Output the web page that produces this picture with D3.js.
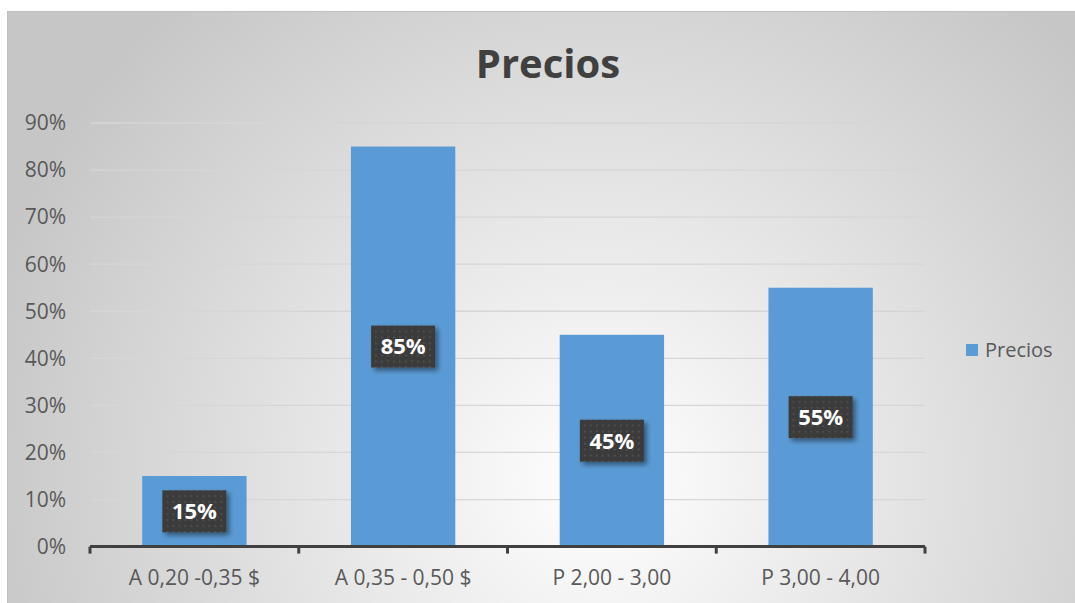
<!DOCTYPE html>
<html>
  <head>
    <meta charset="UTF-8">
    <title>Precios</title>
    <script src="https://cdnjs.cloudflare.com/ajax/libs/d3/7.8.5/d3.min.js"></script>
  </head>
  <style type="text/css">
    body { margin: 0px; background: #fff; overflow: hidden; }
    svg { display: block; }
    text { font-family: "Open Sans", "Noto Sans", sans-serif; }
    .tick-label { fill: #595959; font-size: 21px; }
    .grid line { stroke: #d6d6d6; stroke-width: 1.3px; }
  </style>
  <body>
    <div id="chart"></div>
    <script>
      const categories = ["A 0,20 -0,35 $", "A 0,35 - 0,50 $", "P 2,00 - 3,00", "P 3,00 - 4,00"];
      const values = [0.15, 0.85, 0.45, 0.55];
      const yTicks = [0, 0.1, 0.2, 0.3, 0.4, 0.5, 0.6, 0.7, 0.8, 0.9];
      const seriesName = "Precios";

      const width = 1075, height = 603;
      const margin = {top: 123, right: 150, bottom: 56, left: 90};

      const svg = d3.select("#chart").append("svg")
        .attr("width", width)
        .attr("height", height);

      const defs = svg.append("defs");
      const bg = defs.append("radialGradient")
        .attr("id", "bg")
        .attr("gradientUnits", "userSpaceOnUse")
        .attr("cx", 600).attr("cy", 480).attr("r", 640);
      bg.append("stop").attr("offset", "0%").attr("stop-color", "#ffffff");
      bg.append("stop").attr("offset", "100%").attr("stop-color", "#c6c6c6");

      const pat = defs.append("pattern")
        .attr("id", "dots")
        .attr("patternUnits", "userSpaceOnUse")
        .attr("width", 6).attr("height", 6);
      pat.append("rect").attr("width", 6).attr("height", 6).attr("fill", "#3b3b3b");
      pat.append("rect").attr("x", 2).attr("y", 2).attr("width", 1.5).attr("height", 1.5).attr("fill", "#585858");

      const shadow = defs.append("filter").attr("id", "shadow")
        .attr("x", "-20%").attr("y", "-20%").attr("width", "150%").attr("height", "160%");
      shadow.append("feDropShadow")
        .attr("dx", 3).attr("dy", 3).attr("stdDeviation", 2.5)
        .attr("flood-color", "#000").attr("flood-opacity", 0.45);

      // chart background
      svg.append("rect")
        .attr("x", 7).attr("y", 11)
        .attr("width", width - 7).attr("height", height - 11)
        .attr("fill", "url(#bg)");
      svg.append("line")
        .attr("x1", 7).attr("x2", width).attr("y1", 11.5).attr("y2", 11.5)
        .attr("stroke", "#bfbfbf");
      svg.append("line")
        .attr("x1", 7.5).attr("x2", 7.5).attr("y1", 11).attr("y2", height)
        .attr("stroke", "#bfbfbf");

      const innerWidth = width - margin.left - margin.right;
      const innerHeight = height - margin.top - margin.bottom;
      const g = svg.append("g").attr("transform", `translate(${margin.left},${margin.top})`);

      const x = d3.scaleBand().domain(categories).range([0, innerWidth]).paddingInner(0.5).paddingOuter(0.25);
      const xb = d3.scaleBand().domain(categories).range([0, innerWidth]);
      const y = d3.scaleLinear().domain([0, 0.9]).range([innerHeight - 0.4, 0]);

      // gridlines
      g.append("g").attr("class", "grid")
        .selectAll("line").data(yTicks.slice(1)).join("line")
        .attr("x1", 0).attr("x2", innerWidth)
        .attr("y1", d => y(d)).attr("y2", d => y(d));

      // y labels
      g.append("g").selectAll("text").data(yTicks).join("text")
        .attr("class", "tick-label")
        .attr("x", -24).attr("y", d => y(d)).attr("dy", "0.35em")
        .attr("text-anchor", "end")
        .text(d => d3.format(".0%")(d));

      // bars
      g.selectAll(".bar").data(values).join("rect")
        .attr("class", "bar")
        .attr("x", (d, i) => x(categories[i]))
        .attr("width", x.bandwidth())
        .attr("y", d => y(d))
        .attr("height", d => y(0) - y(d))
        .attr("fill", "#5b9bd5");

      // x axis
      const axis = g.append("g").attr("transform", `translate(0,${y(0)})`);
      axis.append("line").attr("x1", 0).attr("x2", innerWidth).attr("y1", 0).attr("y2", 0)
        .attr("stroke", "#404040").attr("stroke-width", 3);
      axis.selectAll(".tk").data(categories.map(c => xb(c)).concat([innerWidth])).join("line")
        .attr("x1", d => d).attr("x2", d => d).attr("y1", 0).attr("y2", 7)
        .attr("stroke", "#404040").attr("stroke-width", 3);
      axis.selectAll(".cl").data(categories).join("text")
        .attr("class", "tick-label")
        .attr("x", d => xb(d) + xb.bandwidth() / 2)
        .attr("y", 38)
        .attr("text-anchor", "middle")
        .text(d => d);

      // data labels
      const lbl = g.selectAll(".lbl").data(values).join("g")
        .attr("transform", (d, i) => `translate(${x(categories[i]) + x.bandwidth() / 2},${(y(d) + y(0)) / 2})`);
      lbl.append("rect")
        .attr("x", -32).attr("y", -21).attr("width", 64).attr("height", 42)
        .attr("fill", "url(#dots)")
        .attr("filter", "url(#shadow)");
      lbl.append("text")
        .attr("text-anchor", "middle").attr("dy", "0.36em")
        .attr("fill", "#fff").attr("font-weight", "bold").attr("font-size", "22px")
        .text(d => d3.format(".0%")(d));

      // title
      svg.append("text")
        .attr("x", 548).attr("y", 78)
        .attr("text-anchor", "middle")
        .attr("font-size", "40px").attr("font-weight", "bold").attr("fill", "#404040")
        .text(seriesName);

      // legend
      const leg = svg.append("g").attr("transform", "translate(966,344)");
      leg.append("rect").attr("width", 12).attr("height", 12).attr("fill", "#5b9bd5");
      leg.append("text").attr("x", 19).attr("y", 6).attr("dy", "0.36em")
        .attr("class", "tick-label").style("font-size", "20px")
        .text(seriesName);
    </script>
  </body>
</html>
